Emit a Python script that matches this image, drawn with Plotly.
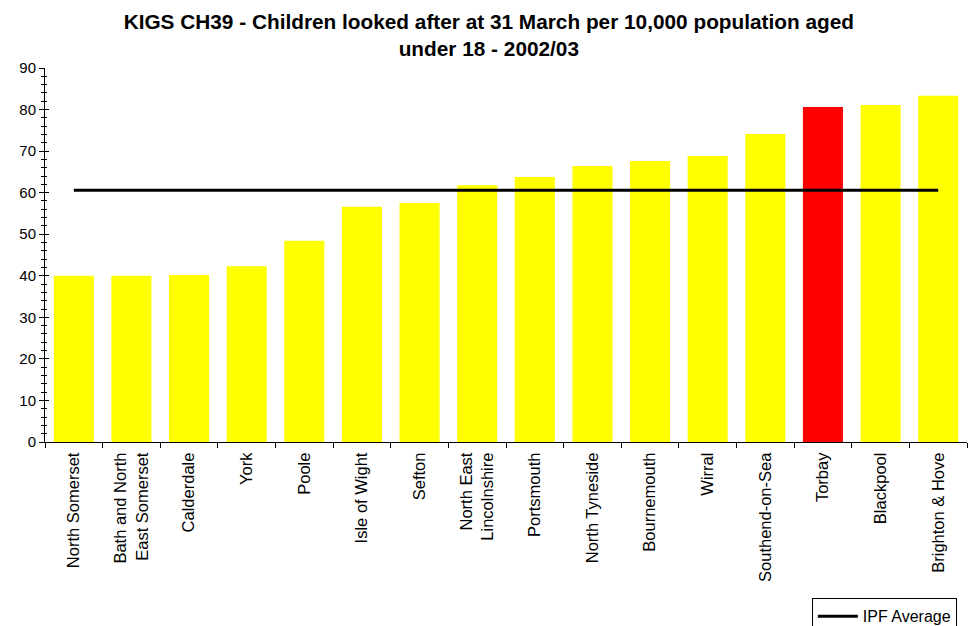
import plotly.graph_objects as go

# Local authorities, sorted by rate
authorities = [
    "North Somerset", "Bath and North<br>East Somerset", "Calderdale", "York",
    "Poole", "Isle of Wight", "Sefton", "North East<br>Lincolnshire",
    "Portsmouth", "North Tyneside", "Bournemouth", "Wirral",
    "Southend-on-Sea", "Torbay", "Blackpool", "Brighton & Hove",
]
# Children looked after per 10,000 population aged under 18
rates = [40.0, 40.0, 40.2, 42.3, 48.4, 56.6, 57.5, 61.8,
         63.8, 66.4, 67.6, 68.8, 74.1, 80.6, 81.1, 83.3]
highlight = "Torbay"
ipf_average = 60.6

y_ticks = [0, 10, 20, 30, 40, 50, 60, 70, 80, 90]

bar_colors = ["#FF0000" if a == highlight else "#FFFF00" for a in authorities]

font_family = "Liberation Sans, Arial, sans-serif"

fig = go.Figure()
fig.add_trace(go.Bar(
    x=authorities, y=rates, marker=dict(color=bar_colors, line=dict(width=0)),
    showlegend=False, hoverinfo="x+y",
))
fig.add_trace(go.Scatter(
    x=[authorities[0], authorities[-1]], y=[ipf_average, ipf_average],
    mode="lines", line=dict(color="black", width=3), name="IPF Average",
))

fig.update_layout(
    width=968, height=626,
    margin=dict(l=45, r=1, t=68, b=184, autoexpand=False),
    paper_bgcolor="white", plot_bgcolor="white",
    font=dict(family=font_family, color="black"),
    title=dict(
        text="<b>KIGS CH39 - Children looked after at 31 March per 10,000 population aged<br>under 18 - 2002/03</b>",
        x=0.505, xanchor="center", y=0.953, yanchor="top",
        font=dict(size=20.8, family=font_family, color="black"),
    ),
    bargap=0.305,
    legend=dict(
        orientation="h", x=0.989, xanchor="right", y=-0.418, yanchor="top",
        bordercolor="black", borderwidth=1, bgcolor="white",
        font=dict(size=16, family=font_family),
        itemwidth=40,
    ),
    showlegend=True,
    # mirror axis carrying the inward half of the y ticks, so they cross the axis line
    yaxis2=dict(
        overlaying="y", side="left", range=[0, 90], tickvals=y_ticks,
        showticklabels=False, showgrid=False, zeroline=False, showline=False,
        ticks="inside", ticklen=4, tickcolor="black",
        minor=dict(dtick=2, ticks="inside", ticklen=2, tickcolor="black", showgrid=False),
    ),
)
fig.update_yaxes(
    selector=dict(overlaying=None),
    range=[0, 90], tickvals=y_ticks, showgrid=False, zeroline=False,
    showline=True, linecolor="black", linewidth=1,
    ticks="outside", ticklen=5, tickcolor="black",
    minor=dict(dtick=2, ticks="outside", ticklen=3, tickcolor="black", showgrid=False),
    tickfont=dict(size=15, family=font_family, color="black"),
)
fig.update_xaxes(
    showgrid=False, showline=True, linecolor="black", linewidth=1,
    ticks="outside", ticklen=5, tickcolor="black", tickson="boundaries",
    tickangle=-90, tickfont=dict(size=16.5, family=font_family, color="black"),
    ticklabelstandoff=3,
    range=[-0.5, len(authorities) - 0.5],
)
# an invisible trace keeps the mirror axis drawn
fig.add_trace(go.Scatter(x=[authorities[0]], y=[None], yaxis="y2",
                         showlegend=False, hoverinfo="skip", mode="markers"))

fig.write_html("out.html")
